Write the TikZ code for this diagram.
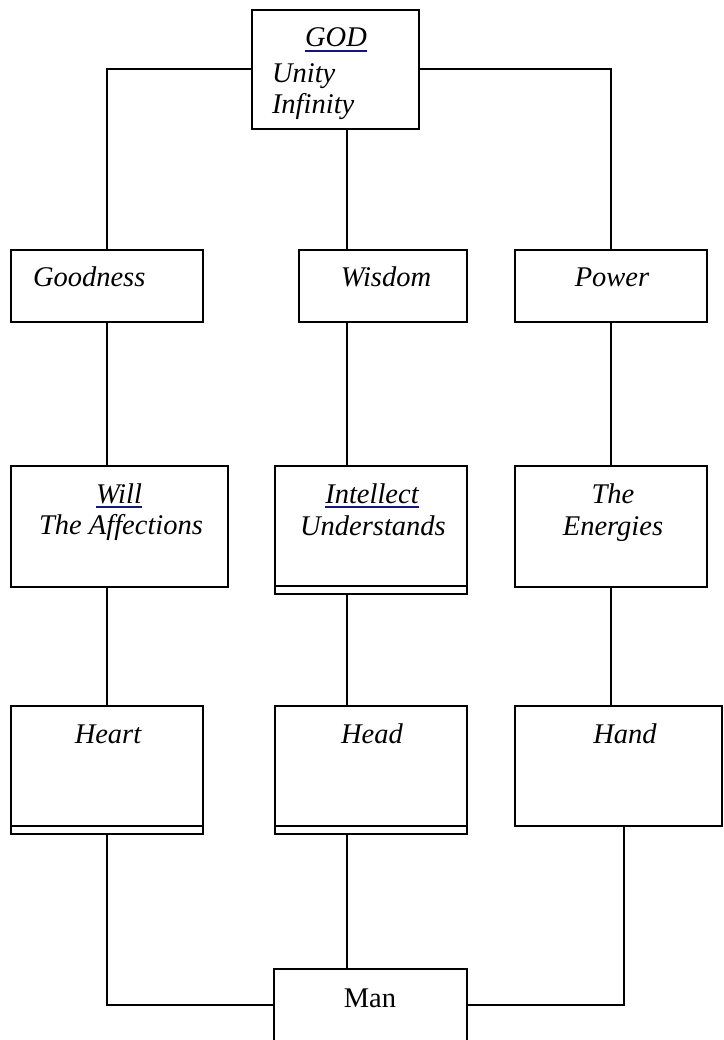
\documentclass[tikz,border=0pt]{standalone}
\usepackage{fontspec}
\setmainfont{Liberation Serif}
\definecolor{ulblue}{RGB}{20,20,128}
\begin{document}
\begin{tikzpicture}[x=1pt,y=-1pt,line width=2pt,
  box/.style={draw,rectangle,inner sep=0pt,outer sep=0pt,line width=2pt},
  lbl/.style={inner sep=0pt,outer sep=0pt,font=\fontsize{28.5}{34}\selectfont\itshape,anchor=base},
  lblw/.style={lbl,anchor=base west},
  wire/.style={draw,line width=2pt},
  ul/.style={draw=ulblue,line width=2pt}]
\useasboundingbox (0,0) rectangle (723,1040);
\fill[white] (0,0) rectangle (723,1040);
% column coordinates
\coordinate (cl) at (107,0);
\coordinate (cm) at (347,0);
\coordinate (cr) at (611,0);
\coordinate (crr) at (624,0);
\coordinate (jy) at (0,1005);
% boxes
\node[box,minimum width=167pt,minimum height=119pt] (god) at (335.5,69.5) {};
\node[box,minimum width=192pt,minimum height=72pt] (goodness) at (107,286) {};
\node[box,minimum width=168pt,minimum height=72pt] (wisdom) at (383,286) {};
\node[box,minimum width=192pt,minimum height=72pt] (power) at (611,286) {};
\node[box,minimum width=217pt,minimum height=121pt] (will) at (119.5,526.5) {};
\node[box,minimum width=192pt,minimum height=128pt] (intellect) at (371,530) {};
\node[box,minimum width=192pt,minimum height=121pt] (energies) at (611,526.5) {};
\node[box,minimum width=192pt,minimum height=128pt] (heart) at (107,770) {};
\node[box,minimum width=192pt,minimum height=128pt] (head) at (371,770) {};
\node[box,minimum width=207pt,minimum height=120pt] (hand) at (618.5,766) {};
\node[box,minimum width=193pt,minimum height=91pt] (man) at (370.5,1014.5) {};
% double bottom lines
\draw ([yshift=8pt]intellect.south west) -- ([yshift=8pt]intellect.south east);
\draw ([yshift=8pt]heart.south west) -- ([yshift=8pt]heart.south east);
\draw ([yshift=8pt]head.south west) -- ([yshift=8pt]head.south east);
% connectors
\draw[wire] (god.west) -| (goodness.north -| cl);
\draw[wire] (god.east) -| (power.north -| cr);
\draw[wire] (god.south -| cm) -- (wisdom.north -| cm);
\draw[wire] (goodness.south -| cl) -- (will.north -| cl);
\draw[wire] (wisdom.south -| cm) -- (intellect.north -| cm);
\draw[wire] (power.south -| cr) -- (energies.north -| cr);
\draw[wire] (will.south -| cl) -- (heart.north -| cl);
\draw[wire] (intellect.south -| cm) -- (head.north -| cm);
\draw[wire] (energies.south -| cr) -- (hand.north -| cr);
\draw[wire] (heart.south -| cl) |- (man.west |- jy);
\draw[wire] (head.south -| cm) -- (man.north -| cm);
\draw[wire] (hand.south -| crr) |- (man.east |- jy);
% texts
\node[lbl] (tgod) at (336,47) {GOD};
\draw[ul] ([yshift=-4pt]tgod.base west) -- ([yshift=-4pt]tgod.base east);
\node[lblw] (tunity) at (272,83) {Unity};
\node[lblw] (tinf) at (272,114) {Infinity};
\node[lblw] (tgood) at (33,287) {Goodness};
\node[lbl] (twis) at (386,287) {Wisdom};
\node[lbl] (tpow) at (612,287) {Power};
\node[lbl] (twill) at (119,503) {Will};
\draw[ul] ([yshift=-4pt]twill.base west) -- ([yshift=-4pt]twill.base east);
\node[lbl] (taff) at (121,534) {The Affections};
\node[lbl] (tint) at (372,503) {Intellect};
\draw[ul] ([yshift=-4pt]tint.base west) -- ([yshift=-4pt]tint.base east);
\node[lbl] (tund) at (373,535) {Understands};
\node[lbl] (tthe) at (613,503) {The};
\node[lbl] (tene) at (613,535) {Energies};
\node[lbl] (theart) at (108,743) {Heart};
\node[lbl] (thead) at (372,743) {Head};
\node[lbl] (thand) at (625,743) {Hand};
\node[lbl,font=\fontsize{28.5}{34}\selectfont] (tman) at (370,1007) {Man};
\end{tikzpicture}
\end{document}
